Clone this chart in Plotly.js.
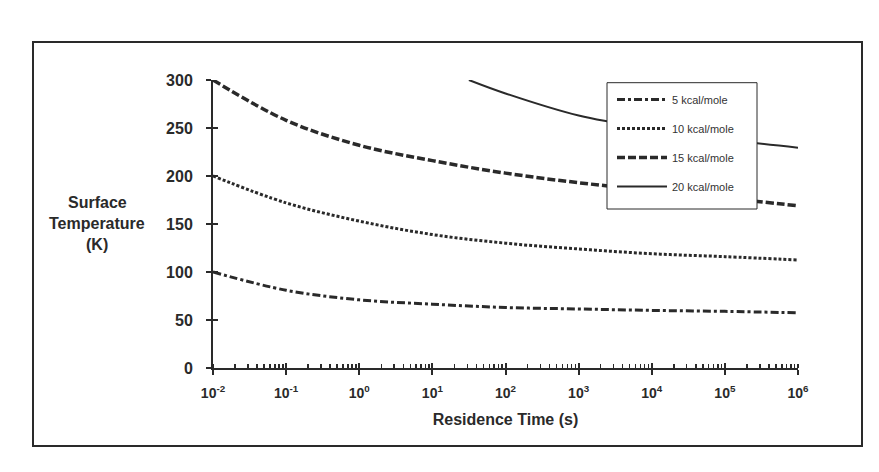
<!DOCTYPE html>
<html>
<head>
<meta charset="utf-8">
<script src="https://cdn.plot.ly/plotly-3.0.1.min.js"></script>
<style>
html,body{margin:0;padding:0;background:#fff;}
#chart{width:879px;height:472px;}
</style>
</head>
<body>
<div id="chart"></div>
<script>
// Residence time (s) at each decade
const times = [0.01, 0.1, 1, 10, 100, 1000, 1e4, 1e5, 1e6];
// Surface temperature (K) for each activation energy
const t5kcal  = [100, 81, 71, 66.5, 63, 61.5, 60, 59, 57.5];
const t10kcal = [200, 172, 153, 139, 130, 124, 119, 116, 112.5];
const t15kcal = [300, 258, 232, 216, 203, 193, 185, 177, 169];
const times20 = [31.6, 100, 1000, 1e4, 1e5, 1e6];
const t20kcal = [300, 286, 263, 249, 238, 229.5];

const seriesNames = ["5 kcal/mole", "10 kcal/mole", "15 kcal/mole", "20 kcal/mole"];
const xTickVals = [0.01, 0.1, 1, 10, 100, 1000, 1e4, 1e5, 1e6];
const xTickText = ["10<sup>-2</sup>","10<sup>-1</sup>","10<sup>0</sup>","10<sup>1</sup>","10<sup>2</sup>","10<sup>3</sup>","10<sup>4</sup>","10<sup>5</sup>","10<sup>6</sup>"];
const yTickVals = [0, 50, 100, 150, 200, 250, 300];

const ink = "#2a2a2a";
const font = "Liberation Sans, Arial, sans-serif";

// plot-area pixel geometry (for converting frame/legend positions to paper coords)
const PL = 213, PR = 798, PT = 80, PB = 368;
const px = v => (v - PL) / (PR - PL);
const py = v => (PB - v) / (PB - PT);

function tr(x, y, name, dash, width, i) {
  return {
    x: x, y: y, name: name, type: "scatter", mode: "lines",
    legendgroup: "g" + i,
    line: {color: ink, width: width, dash: dash, shape: "spline", smoothing: 1},
    hoverinfo: "skip"
  };
}

const data = [
  tr(times, t5kcal, seriesNames[0], "8px,3px,3px,3px", 3, 0),
  tr(times, t10kcal, seriesNames[1], "3px,2px", 3, 1),
  tr(times, t15kcal, seriesNames[2], "8px,3px", 3.5, 2),
  tr(times20, t20kcal, seriesNames[3], "solid", 2, 3)
];

const axCommon = {
  showgrid: false, zeroline: false, showline: true,
  linecolor: ink, linewidth: 2, tickcolor: ink, tickwidth: 2
};

const titleFont = {size: 16, family: font, color: ink};

const layout = {
  width: 879, height: 472,
  margin: {l: PL, r: 879 - PR, t: PT, b: 472 - PB},
  paper_bgcolor: "#fff", plot_bgcolor: "rgba(0,0,0,0)",
  font: {family: font, color: ink},
  showlegend: true,
  legend: {
    x: px(612), y: py(85), xanchor: "left", yanchor: "top",
    bgcolor: "rgba(0,0,0,0)", borderwidth: 0,
    font: {size: 11, color: "#333", family: font},
    traceorder: "grouped", tracegroupgap: 10,
    itemwidth: 50
  },
  xaxis: Object.assign({}, axCommon, {
    type: "log", range: [-2, 6],
    tickmode: "array", tickvals: xTickVals, ticktext: xTickText,
    ticks: "outside", ticklen: 5, ticklabelstandoff: 6,
    minor: {ticks: "inside", dtick: "D1", ticklen: 4, tickcolor: ink, tickwidth: 1.5, showgrid: false},
    tickfont: {size: 14, family: font, color: ink, weight: "bold"},
    title: {text: "<b>Residence Time (s)</b>", font: titleFont, standoff: 14}
  }),
  yaxis: Object.assign({}, axCommon, {
    range: [0, 300],
    tickmode: "array", tickvals: yTickVals,
    ticks: "outside", ticklen: 5, ticklabelstandoff: 10,
    tickfont: {size: 16, family: font, color: ink, weight: "bold"}
  }),
  xaxis2: {
    overlaying: "x", anchor: "y", type: "log", range: [-2, 6],
    tickmode: "array", tickvals: xTickVals, showticklabels: false,
    ticks: "inside", ticklen: 5, tickcolor: ink, tickwidth: 2,
    showgrid: false, zeroline: false, showline: false
  },
  yaxis2: {
    overlaying: "y", anchor: "x", range: [0, 300],
    tickmode: "array", tickvals: yTickVals, showticklabels: false,
    ticks: "inside", ticklen: 5, tickcolor: ink, tickwidth: 2,
    showgrid: false, zeroline: false, showline: false
  },
  annotations: [
    {text: "<b>Surface</b>", xref: "paper", yref: "paper", x: px(97), y: py(202), xanchor: "center", yanchor: "middle", showarrow: false, font: titleFont},
    {text: "<b>Temperature</b>", xref: "paper", yref: "paper", x: px(97), y: py(223), xanchor: "center", yanchor: "middle", showarrow: false, font: titleFont},
    {text: "<b>(K)</b>", xref: "paper", yref: "paper", x: px(97), y: py(244), xanchor: "center", yanchor: "middle", showarrow: false, font: titleFont}
  ],
  shapes: [
    {type: "rect", xref: "paper", yref: "paper",
     x0: px(33), x1: px(862), y0: py(446), y1: py(42),
     line: {color: ink, width: 2}, fillcolor: "rgba(0,0,0,0)", layer: "below"},
    {type: "rect", xref: "paper", yref: "paper",
     x0: px(607), x1: px(757), y0: py(209), y1: py(82.7),
     line: {color: ink, width: 1}, fillcolor: "#fff", layer: "above"}
  ]
};

// invisible trace to activate the overlay axes (inside half of the crossing ticks)
data.push({x: [1], y: [0], xaxis: "x2", yaxis: "y2", mode: "markers", marker: {opacity: 0}, showlegend: false, hoverinfo: "skip"});

Plotly.newPlot("chart", data, layout, {displayModeBar: false, staticPlot: true});
</script>
</body>
</html>
